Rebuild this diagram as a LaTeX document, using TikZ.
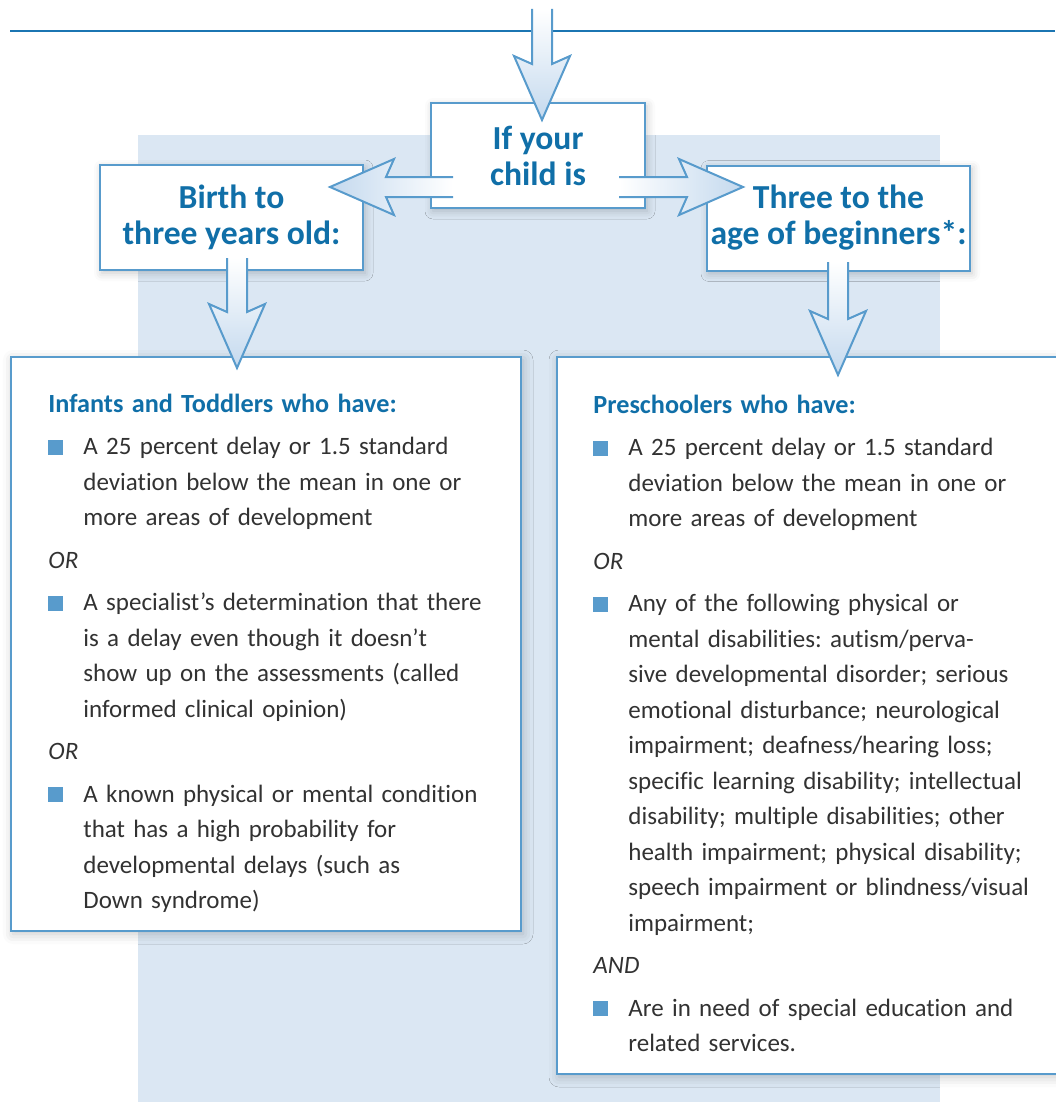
\documentclass[tikz,border=0pt]{standalone}
\usepackage{fontspec}
\setmainfont{Carlito}[Ligatures=NoCommon]
\usepackage{tikz}
\usetikzlibrary{calc,shadows.blur}
\definecolor{titleblue}{RGB}{16,111,168}
\definecolor{boxline}{RGB}{88,155,204}
\definecolor{bgblue}{RGB}{219,231,243}
\definecolor{arrowblue}{RGB}{196,217,238}
\definecolor{bodygray}{RGB}{50,50,50}
\definecolor{rulecolor}{RGB}{27,117,178}
\tikzstyle{agebox}=[rectangle, draw=boxline, line width=1pt, fill=white, align=center, inner sep=0pt,
    text=titleblue, font=\fontsize{16.8pt}{18pt}\selectfont\bfseries, minimum height=52.5pt,
    blur shadow={shadow xshift=1pt, shadow yshift=-1.5pt, shadow blur radius=4pt, shadow opacity=22}]
\tikzstyle{listbox}=[rectangle, draw=boxline, line width=1pt, fill=white, inner sep=0pt, anchor=north west,
    blur shadow={shadow xshift=1pt, shadow yshift=-1.5pt, shadow blur radius=5pt, shadow opacity=22}]
\tikzstyle{listtext}=[anchor=base west, inner sep=0pt, text width=240pt, text=bodygray,
    font=\fontsize{12.5pt}{17.75pt}\selectfont, execute at begin node={\setlength{\parskip}{3.5pt}\frenchspacing}]
\tikzstyle{fatarrow}=[to path={
    ($(\tikztostart)!5pt!90:(\tikztotarget)$)
    -- ($($(\tikztotarget)!28pt!(\tikztostart)$)!5pt!90:(\tikztotarget)$)
    -- ($($(\tikztotarget)!32pt!(\tikztostart)$)!14pt!90:(\tikztotarget)$)
    -- (\tikztotarget)
    -- ($($(\tikztotarget)!32pt!(\tikztostart)$)!14pt!-90:(\tikztotarget)$)
    -- ($($(\tikztotarget)!28pt!(\tikztostart)$)!5pt!-90:(\tikztotarget)$)
    -- ($(\tikztostart)!5pt!-90:(\tikztotarget)$)}]
\newcommand{\agebox}{\node[agebox]}
\newcommand{\sqitem}{\hangindent=17.5pt\hangafter=1\noindent\makebox[17.5pt][l]{\textcolor{boxline}{\rule{7.5pt}{7.5pt}}}}
\newcommand{\listhead}[1]{\noindent{\fontsize{13.1pt}{17.75pt}\selectfont\bfseries\color{titleblue}#1}\par}
\newcommand{\listword}[1]{\noindent{\itshape #1}\par}

\begin{document}
\begin{tikzpicture}[x=0.5pt, y=-0.5pt,
    every edge/.style={draw=boxline, line width=1pt, line join=miter, fatarrow}
]
\useasboundingbox (0,0) rectangle (1055,1102);
\fill[bgblue] (138,135) rectangle (940,1102);
\draw[rulecolor, line width=1pt] (10,31) -- (1055,31);

% age boxes
\agebox (ifchild) at (538,155.5) [minimum width=107pt] {If your\\child is};
\agebox (birth) at (231.5,217.5) [minimum width=131.5pt] {Birth to\\three years old:};
\agebox (three) at (838.5,218) [minimum width=131.5pt] {Three to the\\age of beginners*:};

% lists
\node[listbox, minimum width=255pt, minimum height=287pt] (infbox) at (10,356) {};
\node[listbox, minimum width=272pt, minimum height=358.5pt] (preskbox) at (556,356) {};

\node[listtext] (inftext) at (48,412) {%
\listhead{Infants and Toddlers who have:}
\sqitem A 25 percent delay or 1.5 standard\newline deviation below the mean in one or\newline more areas of development\par
\listword{OR}
\sqitem A specialist’s determination that there\newline is a delay even though it doesn’t\newline show up on the assessments (called\newline informed clinical opinion)\par
\listword{OR}
\sqitem A known physical or mental condition\newline that has a high probability for\newline developmental delays (such as\newline Down syndrome)\par};

\node[listtext] (presktext) at (593,413) {%
\listhead{Preschoolers who have:}
\sqitem A 25 percent delay or 1.5 standard\newline deviation below the mean in one or\newline more areas of development\par
\listword{OR}
\sqitem Any of the following physical or\newline mental disabilities: autism/perva-\newline sive developmental disorder; serious\newline emotional disturbance; neurological\newline impairment; deafness/hearing loss;\newline specific learning disability; intellectual\newline disability; multiple disabilities; other\newline health impairment; physical disability;\newline speech impairment or blindness/visual\newline impairment;\par
\listword{AND}
\sqitem Are in need of special education and\newline related services.\par};

% arrow ends
\coordinate (titlefoot) at (542,9);
\coordinate (iftip) at (542,120);
\coordinate (ifwest) at (453,187);
\coordinate (birthtip) at (330,187);
\coordinate (ifeast) at (619,187);
\coordinate (threetip) at (743,187);
\coordinate (birthfoot) at (237,258);
\coordinate (inftip) at (237,368);
\coordinate (threefoot) at (838,262);
\coordinate (presktip) at (838,375);

\path
(titlefoot) edge [top color=white, bottom color=arrowblue] (iftip)
(ifwest) edge [left color=arrowblue, right color=white] (birthtip)
(ifeast) edge [left color=white, right color=arrowblue] (threetip)
(birthfoot) edge [top color=white, bottom color=arrowblue] (inftip)
(threefoot) edge [top color=white, bottom color=arrowblue] (presktip)
;
\end{tikzpicture}
\end{document}
